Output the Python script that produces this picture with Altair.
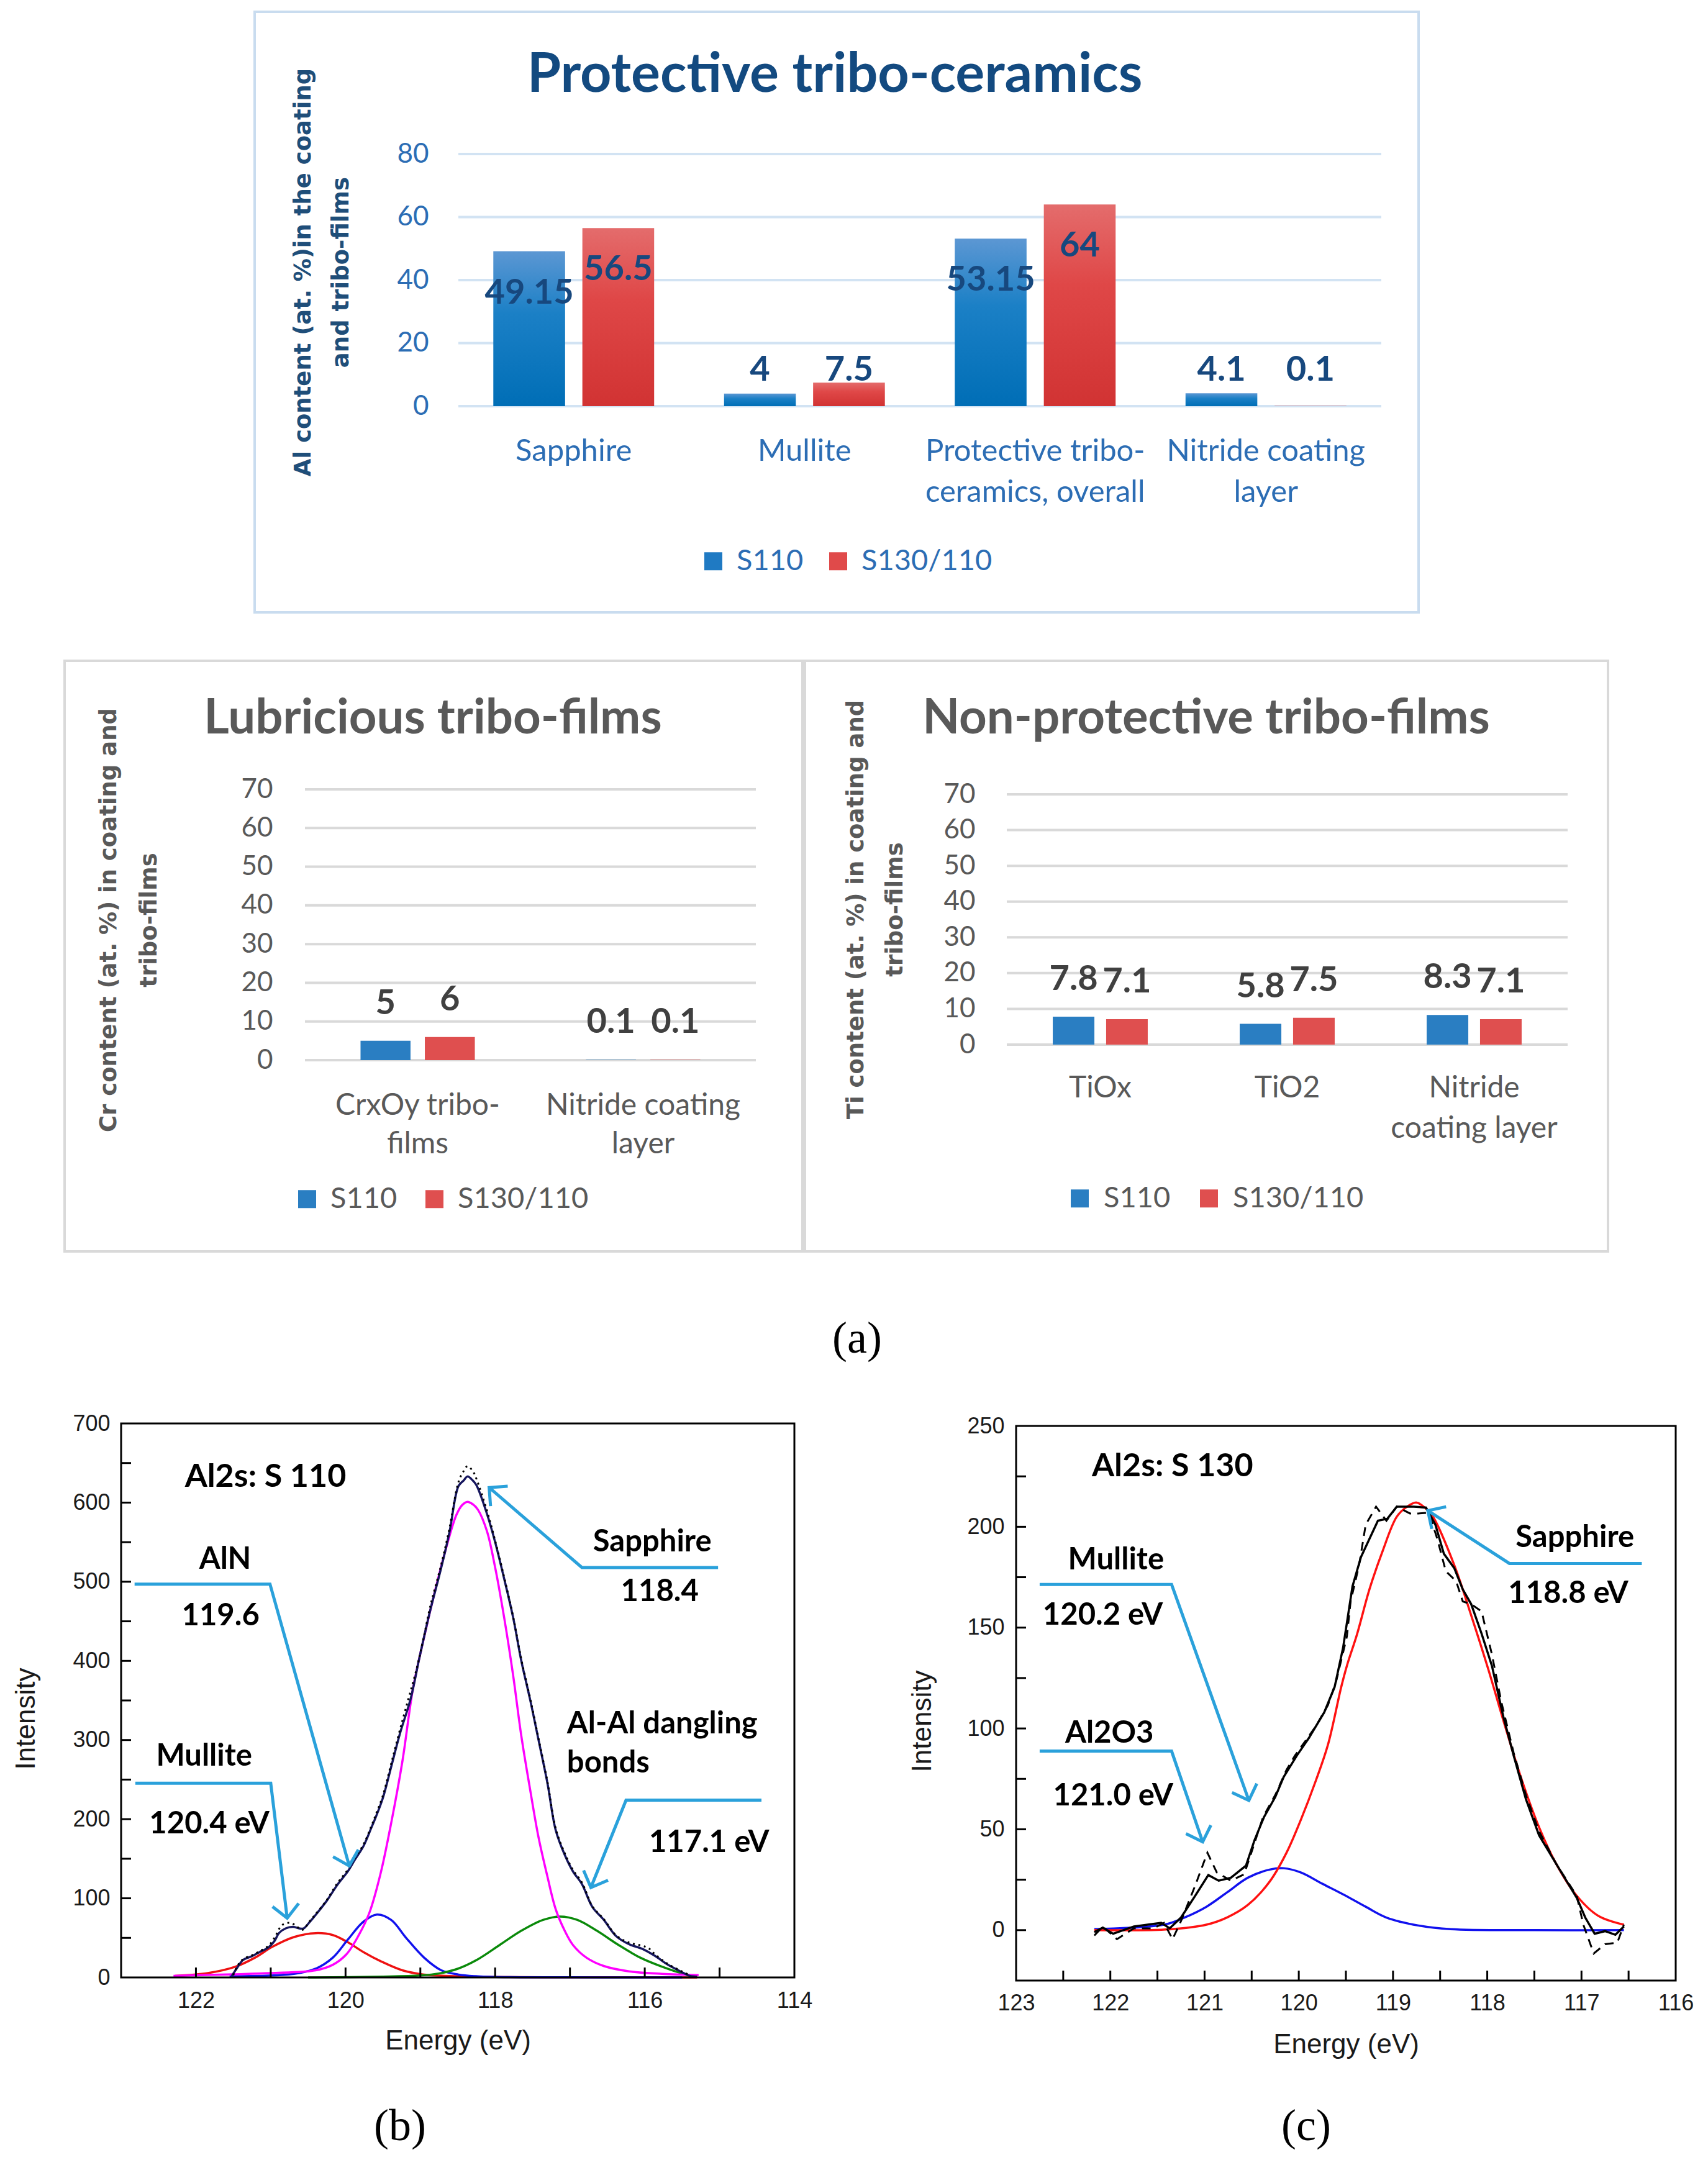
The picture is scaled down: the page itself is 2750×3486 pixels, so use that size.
import math
import altair as alt
import pandas as pd

# ====================== DATA ======================
series_names = ["S110", "S130/110"]

prot_categories = ["Sapphire", "Mullite", "Protective tribo-ceramics, overall", "Nitride coating layer"]
prot_s110 = [49.15, 4, 53.15, 4.1]
prot_s130 = [56.5, 7.5, 64, 0.1]
prot_y_ticks = [0, 20, 40, 60, 80]

lub_categories = ["CrxOy tribo-films", "Nitride coating layer"]
lub_s110 = [5, 0.1]
lub_s130 = [6, 0.1]

nonp_categories = ["TiOx", "TiO2", "Nitride coating layer"]
nonp_s110 = [7.8, 5.8, 8.3]
nonp_s130 = [7.1, 7.5, 7.1]
mid_y_ticks = [0, 10, 20, 30, 40, 50, 60, 70]

# ---- XPS (b) Al2s S110 ----
b_env_E = [121.52, 121.45, 121.37, 121.25, 121.15, 121.03, 120.95, 120.89, 120.80, 120.70,
           120.62, 120.56, 120.48, 120.40, 120.25, 120.11, 119.97, 119.88, 119.76, 119.66,
           119.59, 119.50, 119.39, 119.27, 119.13, 119.01, 118.87, 118.72, 118.61, 118.49,
           118.42, 118.37, 118.30, 118.25, 118.11, 118.00, 117.88, 117.76, 117.65, 117.53,
           117.42, 117.30, 117.19, 117.07, 116.96, 116.84, 116.70, 116.55, 116.38, 116.21,
           116.03, 115.86, 115.69, 115.51, 115.40, 115.30]
b_env_I = [2, 12, 22, 27, 32, 38, 46, 56, 62, 64,
           62, 62, 70, 79, 97, 117, 134, 148, 166, 188,
           204, 227, 266, 309, 352, 405, 463, 518, 563, 621,
           628, 633, 628, 622, 586, 550, 504, 455, 400, 350,
           300, 245, 186, 155, 134, 118, 89, 73, 52, 42,
           36, 27, 16, 7, 2, 1]
b_dot_E = [121.50, 121.45, 121.37, 121.25, 121.15, 121.03, 120.95, 120.85, 120.75, 120.67,
           120.58, 120.48, 120.40, 120.25, 120.11, 119.97, 119.88, 119.76, 119.66, 119.59,
           119.50, 119.39, 119.27, 119.13, 119.05, 118.95, 118.87, 118.72, 118.61, 118.49,
           118.42, 118.37, 118.30, 118.25, 118.11, 118.00, 117.88, 117.76, 117.65, 117.53,
           117.42, 117.30, 117.19, 117.07, 116.96, 116.84, 116.70, 116.55, 116.38, 116.21,
           116.03, 115.95, 115.86, 115.69, 115.51, 115.40]
b_dot_I = [3, 14, 23, 28, 33, 40, 50, 66, 69, 66,
           60, 71, 80, 98, 119, 136, 150, 168, 190, 207,
           230, 270, 314, 362, 390, 432, 468, 522, 568, 626,
           640, 646, 640, 630, 590, 552, 506, 456, 402, 352,
           302, 247, 188, 157, 136, 120, 90, 74, 53, 44,
           40, 37, 29, 17, 8, 3]
b_sapphire_E = [122.30, 121.50, 121.00, 120.40, 120.17, 119.99, 119.82, 119.68, 119.53, 119.39,
                119.24, 119.10, 118.95, 118.81, 118.66, 118.52, 118.44, 118.37, 118.30, 118.23,
                118.11, 118.00, 117.88, 117.76, 117.65, 117.53, 117.42, 117.30, 117.19, 117.07,
                116.96, 116.78, 116.55, 116.21, 115.77, 115.28]
b_sapphire_I = [2, 4, 5.5, 9, 16, 29, 54, 82, 132, 195,
                273, 364, 430, 486, 541, 584, 597, 601, 598, 591,
                564, 518, 455, 382, 305, 236, 177, 127, 86, 59,
                41, 25, 14.5, 7.7, 4.5, 3]
b_mullite_E = [122.28, 121.84, 121.47, 121.21, 120.98, 120.69, 120.40, 120.17, 119.97, 119.76,
               119.53, 119.24, 118.95, 118.49, 118.00, 117.00, 116.00, 115.30]
b_mullite_I = [2, 5.5, 13.6, 25, 38.6, 51, 56, 53.6, 44.5, 32,
               20.5, 9, 3.6, 1.5, 0.5, 0.2, 0.1, 0]
b_aln_E = [121.55, 120.69, 120.40, 120.17, 119.97, 119.76, 119.58, 119.39, 119.19, 118.95,
           118.72, 118.49, 118.23, 117.80, 117.00, 116.00, 115.50]
b_aln_I = [1.4, 4.5, 11, 25, 47.7, 70.5, 79.5, 72.7, 50, 25,
           9, 3.6, 1.4, 0.3, 0.1, 0, 0]
b_alal_E = [120.50, 119.50, 119.00, 118.75, 118.50, 118.23, 117.94, 117.65, 117.36, 117.13,
            116.90, 116.64, 116.35, 116.06, 115.77, 115.48, 115.34]
b_alal_I = [0, 1, 2.5, 5, 11, 23, 41, 59, 72.7, 77,
            72.7, 59, 41, 25, 13.6, 4.5, 1.8]

b_x_labels = [122, 120, 118, 116, 114]
b_x_ticks = [122, 121, 120, 119, 118, 117, 116, 115]
b_y_labels = [0, 100, 200, 300, 400, 500, 600, 700]
b_y_ticks = [50, 100, 150, 200, 250, 300, 350, 400, 450, 500, 550, 600, 650]

b_call_id = ["sapphire"] * 3 + ["aln"] * 3 + ["mullite"] * 3 + ["alal"] * 3
b_call_E = [115.02, 116.84, 118.08, 122.82, 121.01, 119.95, 122.81, 121.00, 120.78, 114.44, 116.25, 116.72]
b_call_I = [518, 518, 619, 497, 497, 141, 245.5, 245.5, 75, 224, 224, 113.6]

b_text = ["Al2s: S 110", "AlN", "119.6", "Mullite", "120.4 eV", "Sapphire", "118.4", "117.1 eV"]
b_text_E = [121.07, 121.61, 121.67, 121.89, 121.82, 115.90, 115.80, 115.14]
b_text_I = [632.7, 528, 457, 279.5, 194, 550, 487, 170.5]
b_text_size = [52, 49, 49, 49, 49, 49, 49, 49]
b_ltext = ["Al-Al dangling", "bonds"]
b_ltext_E = [117.04, 117.04]
b_ltext_I = [320.5, 270.5]

# ---- XPS (c) Al2s S130 ----
c_sapphire_E = [122.17, 121.37, 120.98, 120.76, 120.54, 120.31, 120.13, 119.98, 119.82, 119.69,
                119.55, 119.49, 119.38, 119.25, 119.11, 118.96, 118.85, 118.75, 118.65, 118.57,
                118.35, 118.17, 117.99, 117.81, 117.63, 117.45, 117.27, 117.05, 116.82, 116.55]
c_sapphire_I = [0, 0.4, 2.7, 6.3, 12.5, 24, 38.4, 54.5, 74, 92,
                120.5, 131, 147, 169, 188, 205, 210, 212, 209, 204.5,
                181, 156, 129.5, 101, 74, 51, 33, 17, 7, 2.7]
c_mullite_E = [122.17, 121.43, 121.21, 120.98, 120.76, 120.54, 120.31, 120.16, 119.98, 119.75,
               119.52, 119.29, 119.07, 118.73, 118.39, 117.50, 116.55]
c_mullite_I = [0.5, 2.7, 6.3, 11.6, 18.75, 26, 30, 30.7, 28.6, 23,
               17.5, 11.6, 6.25, 2.3, 0.5, 0, 0]
c_smooth_E = [122.17, 122.08, 121.97, 121.75, 121.46, 121.37, 121.25, 121.10, 120.96, 120.85,
              120.72, 120.56, 120.47, 120.37, 120.25, 120.16, 120.02, 119.89, 119.73, 119.62,
              119.53, 119.43, 119.34, 119.25, 119.16, 119.06, 118.96, 118.78, 118.65, 118.55,
              118.46, 118.35, 118.26, 118.17, 118.06, 117.95, 117.83, 117.72, 117.59, 117.45,
              117.27, 117.05, 116.96, 116.86, 116.75, 116.64, 116.55]
c_smooth_I = [-1, 1.25, -1.8, 1.8, 3.6, 0.9, 6.25, 17, 27.3, 24.5,
              26, 32, 44.6, 56, 66, 76, 86.6, 95.5, 108, 120.5,
              140, 170.5, 185, 194, 203, 204, 210, 210, 209.5, 201,
              186.6, 179.5, 169, 161.6, 147, 131, 106, 86.6, 65, 47,
              33, 16, 6.25, -1.8, -0.5, -2.3, 1.8]
c_raw_E = [122.17, 122.08, 121.93, 121.75, 121.54, 121.43, 121.34, 121.25, 121.10, 120.97,
           120.87, 120.72, 120.58, 120.51, 120.38, 120.25, 120.13, 120.04, 119.82, 119.69,
           119.60, 119.49, 119.45, 119.36, 119.29, 119.18, 119.07, 118.96, 118.82, 118.73,
           118.62, 118.53, 118.44, 118.33, 118.26, 118.17, 118.06, 117.95, 117.85, 117.72,
           117.59, 117.45, 117.27, 117.05, 116.98, 116.87, 116.75, 116.62, 116.55]
c_raw_I = [-2.7, 1.8, -4.5, 0.9, 0.9, 3.6, -4.5, 4.5, 22, 38.4,
           28.6, 24.5, 27.7, 37.5, 56, 67, 79.5, 86.6, 101, 111.6,
           124, 145.5, 163, 181, 201, 210, 203, 210, 206.6, 206.6,
           207, 194, 178, 173, 163, 161.6, 158, 136.6, 113, 88,
           67, 49, 33, 17, 2.7, -11.6, -7, -6.25, 2.7]

c_x_labels = [123, 122, 121, 120, 119, 118, 117, 116]
c_x_ticks = [122.5, 122, 121.5, 121, 120.5, 120, 119.5, 119, 118.5, 118, 117.5, 117, 116.5]
c_y_labels = [0, 50, 100, 150, 200, 250]
c_y_ticks = [0, 25, 50, 75, 100, 125, 150, 175, 200, 225]

c_call_id = ["mullite"] * 3 + ["al2o3"] * 3 + ["sapphire"] * 3
c_call_E = [122.75, 121.35, 120.53, 122.75, 121.35, 121.02, 116.36, 117.765, 118.63]
c_call_I = [171.4, 171.4, 64.3, 88.75, 88.75, 43.75, 181.8, 181.8, 208]

c_text = ["Al2s: S 130", "Mullite", "120.2 eV", "Al2O3", "121.0 eV", "Sapphire", "118.8 eV"]
c_text_E = [121.34, 121.94, 122.08, 122.01, 121.97, 117.07, 117.14]
c_text_I = [230, 183.4, 156, 97.7, 66.6, 194.6, 167]
c_text_size = [52, 49, 49, 49, 49, 49, 49]

# ====================== STYLE / LAYOUT ======================
TOTAL_W, TOTAL_H = 2734, 3470          # one view covering the page (page coords minus the 8px margin)
FONT = "Lato"
AXT_FONT = "DejaVu Sans"
XPS_FONT = "Liberation Sans"
ANN_FONT = "Lato"
SERIF = "Liberation Serif"
CALL = "#2AA1DB"
XPS_TXT = "#1a1a1a"
CHEVRON = "M-1,1L0,0L1,1"

ONE = pd.DataFrame({"k": [0]})


def vrect(x1, x2, y1, y2, **mk):
    return alt.Chart(ONE).mark_rect(**mk).encode(
        x=alt.value(x1), x2=alt.value(x2), y=alt.value(y1), y2=alt.value(y2))


def vtext(txt, x, y, **mk):
    return alt.Chart(ONE).mark_text(text=txt, **mk).encode(x=alt.value(x), y=alt.value(y))


def label_expr(wraps):
    expr = "datum.label"
    for k, lines in wraps.items():
        arr = "[" + ", ".join("'" + s + "'" for s in lines) + "]"
        expr = "datum.label === '" + k + "' ? " + arr + " : (" + expr + ")"
    return expr


def bar_df(cats, a, b):
    rows = []
    for c, va, vb in zip(cats, a, b):
        rows.append(dict(cat=c, series=series_names[0], val=va, txt=f"{va:g}"))
        rows.append(dict(cat=c, series=series_names[1], val=vb, txt=f"{vb:g}"))
    return pd.DataFrame(rows)


def grad(c0, c1, c2):
    return {"gradient": "linear", "x1": 0, "x2": 0, "y1": 0, "y2": 1,
            "stops": [{"offset": 0, "color": c0}, {"offset": 0.4, "color": c1},
                      {"offset": 1, "color": c2}]}


def bar_panel(cfg):
    x0, x1, y0, y1 = cfg["plot"]
    df = bar_df(cfg["cats"], cfg["v1"], cfg["v2"])
    xax = alt.Axis(orient="bottom", offset=y1 - TOTAL_H, title=None, labelAngle=0, domain=False,
                   ticks=False, grid=False, labelFont=FONT, labelFontSize=cfg["xlab_size"],
                   labelColor=cfg["text_color"], labelPadding=cfg["xlab_pad"],
                   labelLineHeight=cfg["xlab_lh"], labelLimit=0, labelOverlap=False,
                   labelBaseline="top", labelExpr=label_expr(cfg["wraps"]))
    x = alt.X("cat:N", sort=cfg["cats"],
              scale=alt.Scale(domain=cfg["cats"], range=[x0, x1], paddingInner=cfg["pin"],
                              paddingOuter=cfg["pin"] / 2),
              axis=xax)
    xo = alt.XOffset("series:N", sort=series_names,
                     scale=alt.Scale(domain=series_names, paddingInner=cfg["opin"], paddingOuter=0))
    yax = alt.Axis(orient="left", offset=-x0, values=cfg["yticks"], format="d", title=cfg["ytitle"],
                   titleFont=AXT_FONT, titleFontWeight="bold", titleFontSize=37,
                   titleColor=cfg["ytitle_color"], titleX=cfg["ytitle_x"], titleY=cfg["ytitle_y"],
                   titleLineHeight=cfg["ytitle_lh"], titleBaseline="middle", labelFont=FONT,
                   labelFontSize=cfg["tick_size"], labelColor=cfg["text_color"],
                   labelPadding=cfg["tick_pad"], domain=False, ticks=False, grid=False)
    yscale = alt.Scale(domain=[0, cfg["ymax"]], range=[y1, y0], nice=False, zero=True)
    y = alt.Y("val:Q", scale=yscale, axis=yax)

    bx1, bx2, by1, by2 = cfg["box"]
    layers = [
        vrect(bx1, bx2, by1, by2, fillOpacity=0, stroke=cfg["box_color"], strokeWidth=4),
        alt.Chart(pd.DataFrame({"val": cfg["yticks"]})).mark_rule(
            color=cfg["grid_color"], strokeWidth=4).encode(y=y, x=alt.value(x0), x2=alt.value(x1)),
        vtext(cfg["title"], cfg["title_xy"][0], cfg["title_xy"][1], font=FONT, fontWeight="bold",
              fontSize=cfg["title_size"], color=cfg["title_color"], align="center", baseline="middle"),
    ]
    for s, fill in zip(series_names, cfg["fills"]):
        layers.append(alt.Chart(df).transform_filter(alt.datum.series == s)
                      .mark_bar(color=fill).encode(x=x, xOffset=xo, y=y))
    if cfg["lab_mode"] == "inside":
        df_l = df.copy()
        df_l["lab_y"] = [v - 13.2 if v > 24.6 else 11.4 for v in df_l["val"]]
        layers.append(alt.Chart(df_l).mark_text(font=FONT, fontWeight="bold", fontSize=cfg["lab_size"],
                                                color=cfg["lab_color"], baseline="middle")
                      .encode(x=x, xOffset=xo, y=alt.Y("lab_y:Q", scale=yscale, axis=yax), text="txt:N"))
    else:
        layers.append(alt.Chart(df).mark_text(font=FONT, fontWeight="bold", fontSize=cfg["lab_size"],
                                              color=cfg["lab_color"], baseline="middle", dy=-60)
                      .encode(x=x, xOffset=xo, y=y, text="txt:N"))
    layers.append(alt.Chart(df).mark_square(opacity=0, size=4).encode(
        x=x, xOffset=xo, y=y,
        color=alt.Color("series:N", sort=series_names,
                        scale=alt.Scale(domain=series_names, range=cfg["legend_colors"]),
                        legend=alt.Legend(title=None, orient="none", legendX=cfg["legend_xy"][0],
                                          legendY=cfg["legend_xy"][1], direction="horizontal",
                                          symbolType="square", symbolSize=841, symbolOpacity=1,
                                          symbolStrokeWidth=0, labelFont=FONT,
                                          labelFontSize=cfg["legend_fs"], labelColor=cfg["text_color"],
                                          labelOffset=cfg["legend_off"], columnPadding=cfg["legend_cp"],
                                          padding=0, labelLimit=0))))
    for extra in cfg.get("extra", []):
        layers.append(extra)
    return alt.layer(*layers)


def xps_panel(cfg):
    x0, x1, y0, y1 = cfg["plot"]
    xax = alt.Axis(orient="bottom", offset=y1 - TOTAL_H, values=cfg["x_labels"], format="d",
                   title="Energy (eV)", labelFont=XPS_FONT, labelFontSize=36, labelColor=XPS_TXT,
                   labelPadding=cfg["xlab_pad"], labelFlush=False, labelOverlap=False, ticks=False,
                   domain=False, grid=False, titleFont=XPS_FONT, titleFontSize=44,
                   titleFontWeight="normal", titleColor=XPS_TXT, titleX=(x0 + x1) / 2,
                   titleY=cfg["xt_y"], titleBaseline="middle")
    yax = alt.Axis(orient="left", offset=-x0, values=cfg["y_labels"], format="d", title="Intensity",
                   labelFont=XPS_FONT, labelFontSize=36, labelColor=XPS_TXT,
                   labelPadding=cfg["ylab_pad"], labelFlush=False, labelOverlap=False, ticks=False,
                   domain=False, grid=False, titleFont=XPS_FONT, titleFontSize=44,
                   titleFontWeight="normal", titleColor=XPS_TXT, titleX=cfg["yt_xy"][0],
                   titleY=cfg["yt_xy"][1], titleBaseline="middle")
    e0, e1 = cfg["E_dom"]
    i0, i1 = cfg["I_dom"]
    x = alt.X("E:Q", scale=alt.Scale(domain=[e0, e1], range=[x1, x0], nice=False, zero=False), axis=xax)
    y = alt.Y("I:Q", scale=alt.Scale(domain=[i0, i1], range=[y1, y0], nice=False, zero=False), axis=yax)
    sx = (x1 - x0) / (e1 - e0)
    sy = (y1 - y0) / (i1 - i0)

    layers = []
    for Es, Is, color, sw, dash, interp in cfg["curves"]:
        mk = dict(color=color, strokeWidth=sw, interpolate=interp)
        if dash:
            mk["strokeDash"] = dash
        layers.append(alt.Chart(pd.DataFrame({"E": Es, "I": Is})).mark_line(**mk).encode(x=x, y=y))

    ids, cE, cI = cfg["callouts"]
    dfc = pd.DataFrame({"id": ids, "E": cE, "I": cI})
    dfc["k"] = dfc.groupby("id").cumcount()
    layers.append(alt.Chart(dfc).mark_line(color=CALL, strokeWidth=5, strokeJoin="miter")
                  .encode(x=x, y=y, detail="id:N", order="k:Q"))
    tips = []
    for cid in dict.fromkeys(ids):
        g = dfc[dfc["id"] == cid].sort_values("k")
        pE, pI = g["E"].iloc[-2], g["I"].iloc[-2]
        tE, tI = g["E"].iloc[-1], g["I"].iloc[-1]
        dx = (pE - tE) * sx
        dy = (pI - tI) * sy
        ang = math.degrees(math.atan2(dx, -dy)) % 360
        tips.append({"E": tE, "I": tI, "ang": ang})
    layers.append(alt.Chart(pd.DataFrame(tips)).mark_point(
        shape=CHEVRON, filled=False, size=1800, strokeWidth=5, color=CALL, opacity=1)
        .encode(x=x, y=y, angle=alt.Angle("ang:Q", scale=None)))

    t, tE, tI, ts = cfg["texts"]
    layers.append(alt.Chart(pd.DataFrame({"t": t, "E": tE, "I": tI, "fs": ts})).mark_text(
        font=ANN_FONT, fontWeight="bold", color="black", align="center", baseline="middle")
        .encode(x=x, y=y, text="t:N", size=alt.Size("fs:Q", scale=None)))
    if cfg.get("ltexts"):
        t, tE, tI = cfg["ltexts"]
        layers.append(alt.Chart(pd.DataFrame({"t": t, "E": tE, "I": tI})).mark_text(
            font=ANN_FONT, fontWeight="bold", fontSize=49, color="black", align="left",
            baseline="middle").encode(x=x, y=y, text="t:N"))

    layers.append(alt.Chart(pd.DataFrame({"E": cfg["x_ticks"]})).mark_rule(color="black", strokeWidth=3)
                  .encode(x=x, y=alt.value(y1), y2=alt.value(y1 - 16)))
    layers.append(alt.Chart(pd.DataFrame({"I": cfg["y_ticks"]})).mark_rule(color="black", strokeWidth=3)
                  .encode(y=y, x=alt.value(x0), x2=alt.value(x0 + 16)))
    layers.append(vrect(x0, x1, y0, y1, fillOpacity=0, stroke="black", strokeWidth=3))
    lx, ly = cfg["fig_label_xy"]
    layers.append(vtext(cfg["fig_label"], lx, ly, font=SERIF, fontSize=72, color="black",
                        align="center", baseline="middle"))
    return alt.layer(*layers)


# ====================== PANELS (positions in view pixels) ======================
top = bar_panel(dict(
    cats=prot_categories, v1=prot_s110, v2=prot_s130, plot=(730, 2216, 240, 646), ymax=80,
    yticks=prot_y_ticks,
    wraps={"Protective tribo-ceramics, overall": ["Protective tribo-", "ceramics, overall"],
           "Nitride coating layer": ["Nitride coating", "layer"]},
    pin=0.303, opin=0.194,
    box=(402, 2276, 11, 978), box_color="#C9DCEF",
    title="Protective tribo-ceramics", title_xy=(1336, 114), title_size=88, title_color="#134A80",
    ytitle=["Al content (at. %)in the coating", "and tribo-films"], ytitle_x=-250, ytitle_y=430,
    ytitle_lh=61, ytitle_color="#1F4E79",
    tick_size=44, text_color="#2C6DB4", tick_pad=48, xlab_size=49, xlab_pad=48, xlab_lh=66,
    grid_color="#D2E3F3", lab_color="#17487E", lab_size=56, lab_mode="inside",
    fills=[grad("#5C97D3", "#1B80C6", "#006EB6"), grad("#E46C6C", "#DF4747", "#D13333")],
    legend_colors=["#1F7AC3", "#E04A4A"], legend_xy=(1117, 872), legend_fs=47, legend_off=14,
    legend_cp=32,
))

midL = bar_panel(dict(
    cats=lub_categories, v1=lub_s110, v2=lub_s130, plot=(483, 1209, 1263, 1699), ymax=70,
    yticks=mid_y_ticks,
    wraps={"CrxOy tribo-films": ["CrxOy tribo-", "films"],
           "Nitride coating layer": ["Nitride coating", "layer"]},
    pin=0.493, opin=0.223,
    box=(96, 1284, 1056, 2007), box_color="#D9D9D9",
    title="Lubricious tribo-films", title_xy=(689, 1150), title_size=78, title_color="#595959",
    ytitle=["Cr content (at. %) in coating and", "tribo-films"], ytitle_x=-316, ytitle_y=1473,
    ytitle_lh=65, ytitle_color="#595959",
    tick_size=44, text_color="#595959", tick_pad=52, xlab_size=48, xlab_pad=49, xlab_lh=62,
    grid_color="#D9D9D9", lab_color="#404040", lab_size=56, lab_mode="above",
    fills=["#2A7EC2", "#DF4F4F"], legend_colors=["#2A7EC2", "#DF4F4F"], legend_xy=(463, 1899),
    legend_fs=47, legend_off=14, legend_cp=36,
))

midR = bar_panel(dict(
    cats=nonp_categories, v1=nonp_s110, v2=nonp_s130, plot=(1613, 2516, 1271, 1674), ymax=70,
    yticks=mid_y_ticks,
    wraps={"Nitride coating layer": ["Nitride", "coating layer"]},
    pin=0.492, opin=0.22,
    box=(1288, 2581, 1056, 2007), box_color="#D9D9D9",
    title="Non-protective tribo-films", title_xy=(1934, 1150), title_size=78, title_color="#595959",
    ytitle=["Ti content (at. %) in coating and", "tribo-films"], ytitle_x=-243, ytitle_y=1456,
    ytitle_lh=63, ytitle_color="#595959",
    tick_size=44, text_color="#595959", tick_pad=51, xlab_size=48, xlab_pad=46, xlab_lh=65,
    grid_color="#D9D9D9", lab_color="#404040", lab_size=56, lab_mode="above",
    fills=["#2A7EC2", "#DF4F4F"], legend_colors=["#2A7EC2", "#DF4F4F"], legend_xy=(1707, 1898),
    legend_fs=47, legend_off=15, legend_cp=38,
    extra=[vtext("(a)", 1372, 2148, font=SERIF, fontSize=72, color="black", align="center",
                 baseline="middle")],
))

xps_b = xps_panel(dict(
    plot=(187, 1271, 2284, 3176), E_dom=(114, 123), I_dom=(0, 700),
    x_labels=b_x_labels, x_ticks=b_x_ticks, y_labels=b_y_labels, y_ticks=b_y_ticks,
    xlab_pad=20, ylab_pad=18, xt_y=102, yt_xy=(-153, 2759),
    curves=[
        (b_mullite_E, b_mullite_I, "#EE1111", 3.5, None, "catmull-rom"),
        (b_aln_E, b_aln_I, "#1111EE", 3.5, None, "catmull-rom"),
        (b_alal_E, b_alal_I, "#0A8A0A", 3.5, None, "catmull-rom"),
        (b_sapphire_E, b_sapphire_I, "#FF00FF", 3.5, None, "catmull-rom"),
        (b_env_E, b_env_I, "#16165E", 3.5, None, "catmull-rom"),
        (b_dot_E, b_dot_I, "black", 3, [3, 6], "catmull-rom"),
    ],
    callouts=(b_call_id, b_call_E, b_call_I),
    texts=(b_text, b_text_E, b_text_I, b_text_size),
    ltexts=(b_ltext, b_ltext_E, b_ltext_I),
    fig_label="(b)", fig_label_xy=(636, 3416),
))

xps_c = xps_panel(dict(
    plot=(1628, 2690, 2288, 3181), E_dom=(116, 123), I_dom=(-25, 250),
    x_labels=c_x_labels, x_ticks=c_x_ticks, y_labels=c_y_labels, y_ticks=c_y_ticks,
    xlab_pad=19, ylab_pad=19, xt_y=103, yt_xy=(-151, 2763),
    curves=[
        (c_mullite_E, c_mullite_I, "#1111EE", 3.5, None, "catmull-rom"),
        (c_sapphire_E, c_sapphire_I, "#FF1111", 3.5, None, "catmull-rom"),
        (c_raw_E, c_raw_I, "black", 3, [14, 10], "linear"),
        (c_smooth_E, c_smooth_I, "black", 3.5, None, "linear"),
    ],
    callouts=(c_call_id, c_call_E, c_call_I),
    texts=(c_text, c_text_E, c_text_I, c_text_size),
    fig_label="(c)", fig_label_xy=(2095, 3416),
))

chart = alt.layer(top, midL, midR, xps_b, xps_c) \
    .resolve_scale(x="independent", y="independent", xOffset="independent", color="independent") \
    .resolve_axis(x="independent", y="independent") \
    .resolve_legend(color="independent") \
    .properties(width=TOTAL_W, height=TOTAL_H, padding=0, background="white") \
    .configure_view(strokeWidth=0)

chart.save("out.html", embed_options={"renderer": "svg", "actions": False})
